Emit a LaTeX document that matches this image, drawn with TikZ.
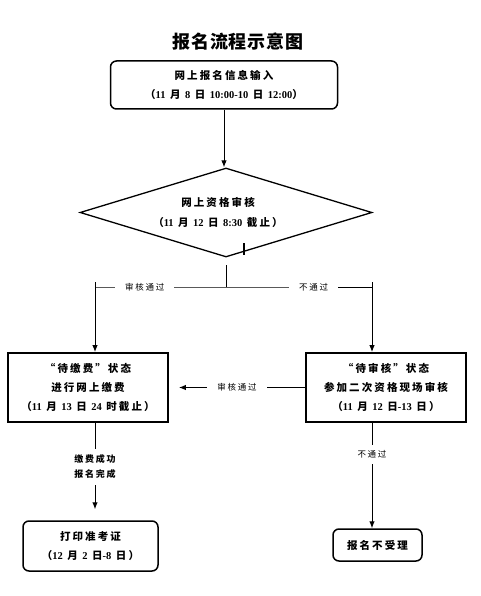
\documentclass[tikz,border=0pt]{standalone}
\usepackage{fontspec}
\setmainfont{Liberation Serif}
\newfontfamily\cjk[LetterSpace=20]{Noto Sans CJK SC}
\newfontfamily\cjktitle[LetterSpace=4]{Noto Sans CJK SC}
\usetikzlibrary{shapes.geometric, arrows.meta, positioning, calc}
\newcommand{\rn}[1]{{\rmfamily\bfseries #1}}

\tikzset{
  stepbox/.style={draw, line width=1.8pt, minimum width=160pt, minimum height=69pt, align=center,
    font=\cjk\bfseries\fontsize{10.5}{19}\selectfont},
  roundbox/.style={draw, line width=1.5pt, rounded corners=6pt, align=center,
    font=\cjk\bfseries\fontsize{10.5}{19}\selectfont},
  arr/.style={-{Latex[length=7pt,width=5.5pt]}, line width=1pt},
  flow/.style={line width=1pt},
  lbl/.style={fill=white, inner xsep=10pt, inner ysep=3pt, font=\cjk\fontsize{8.5}{10}\selectfont},
  lblb/.style={fill=white, inner xsep=3pt, inner ysep=6pt, align=center, font=\cjk\bfseries\fontsize{9}{15}\selectfont}
}

\begin{document}
\begin{tikzpicture}[x=1pt, y=-1pt]
  \useasboundingbox (0,0) rectangle (481,596);
  % Title
  \node[font=\cjktitle\bfseries\fontsize{18}{20}\selectfont] (title) at (238,42) {报名流程示意图};
  % Online registration
  \node[roundbox, minimum width=227pt, minimum height=48pt] (reg) at (224,85)
    {网上报名信息输入\\（\rn{11} 月 \rn{8} 日 \rn{10:00-10} 日 \rn{12:00}）};
  % Online check
  \node[draw, diamond, line width=1.3pt, minimum width=292pt, minimum height=89pt, inner sep=0pt] (chk) at (226,212.5) {};
  \node[align=center, font=\cjk\bfseries\fontsize{10.5}{20}\selectfont] (chktext) at (218,212)
    {网上资格审核\hspace{18pt}\\（\rn{11} 月 \rn{12} 日 \rn{8:30} 截止）};
  \draw[line width=1.3pt] (244,243) -- (244,255);
  \draw[arr] (reg.south) -- (reg.south |- chk.north);
  % Split
  \coordinate (j0) at (226,265);
  \coordinate (j) at (226,287);
  \coordinate (jl) at (95,287);
  \coordinate (jr) at (372,287);
  \draw[flow] (j0) -- (j);
  \draw[flow] (jl) -- node[lbl, pos=0.38] (okl) {审核通过} (j) -- node[lbl, pos=0.6] (nol) {不通过} (jr);
  % State boxes
  \node[stepbox] (pay) at (88,387.5)
    {“待缴费”状态\\进行网上缴费\\（\rn{11} 月 \rn{13} 日 \rn{24} 时截止）};
  \node[stepbox] (site) at (386,387.5)
    {“待审核”状态\\参加二次资格现场审核\\（\rn{11} 月 \rn{12} 日\rn{-13} 日）};
  \draw[arr] ($(jl)+(0,-5)$) -- (jl |- pay.north);
  \draw[arr] ($(jr)+(0,-5)$) -- (jr |- site.north);
  \draw[arr, shorten >=10pt] (site.west) -- node[lbl, pos=0.5] (okm) {审核通过} (pay.east);
  % Results
  \node[roundbox, minimum width=135pt, minimum height=50pt] (print) at (90.5,546)
    {打印准考证\\（\rn{12} 月 \rn{2} 日\rn{-8} 日）};
  \node[roundbox, minimum width=89pt, minimum height=32pt] (rej) at (377.5,545) {报名不受理};
  \draw[arr, shorten >=11pt] (pay.south -| jl) -- node[lblb, pos=0.45] (done) {缴费成功\\报名完成} (jl |- print.north);
  \draw[arr] (site.south -| jr) -- node[lbl, pos=0.3, inner ysep=6pt] (nob) {不通过} (jr |- rej.north);
\end{tikzpicture}
\end{document}
